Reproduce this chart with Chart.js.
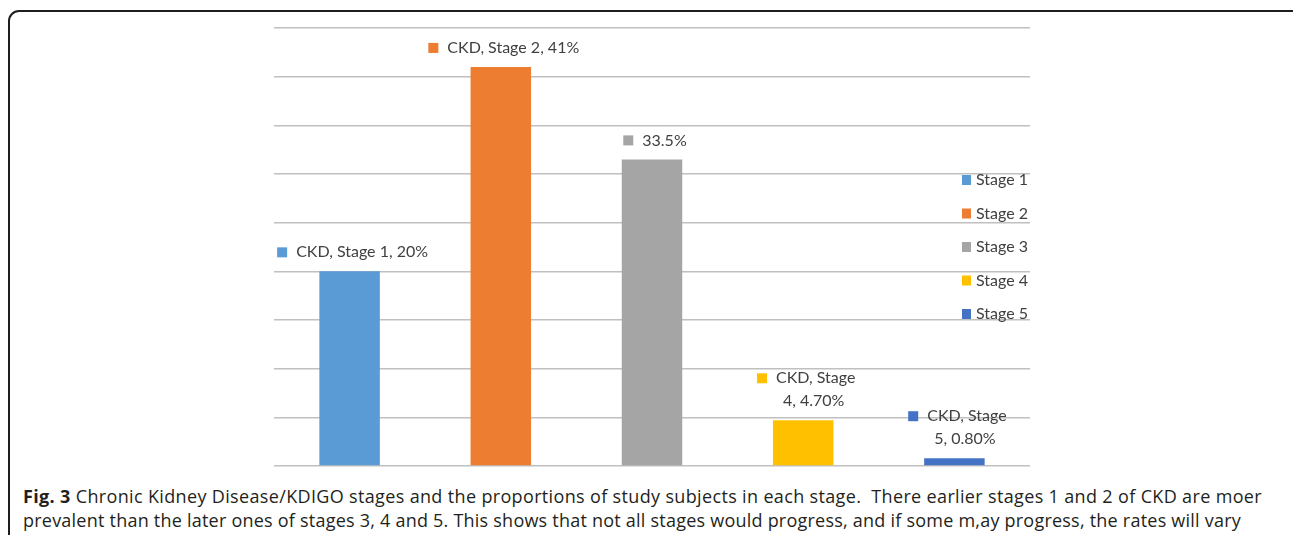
<!DOCTYPE html>
<html>
<head>
<meta charset="utf-8">
<script src="https://cdn.jsdelivr.net/npm/chart.js@4.4.1/dist/chart.umd.min.js"></script>
<style>
  html, body { margin: 0; padding: 0; background: #fff; }
  body { width: 1293px; height: 535px; position: relative; overflow: hidden; }
  #frame {
    position: absolute; left: 8px; top: 10px; width: 1320px; height: 600px;
    border: 2px solid #1e1e1e; border-radius: 11px; box-sizing: border-box;
  }
  #wrap { position: absolute; left: 0; top: 0; width: 1293px; height: 480px; }
  #caption {
    position: absolute; left: 23px; top: 484px; width: 1265px;
    font-family: "Open Sans", sans-serif; font-size: 18px; line-height: 24px;
    color: #231f20; white-space: nowrap;
  }
  #caption span { display: inline-block; }
</style>
</head>
<body>
<div id="frame"></div>
<div id="wrap"><canvas id="chart" width="1293" height="480"></canvas></div>
<div id="caption"><span id="cap1" data-w="1239"><b>Fig. 3</b> Chronic Kidney Disease/KDIGO stages and the proportions of study subjects in each stage.&nbsp; There earlier stages 1 and 2 of CKD are moer</span><br><span id="cap2" data-w="1218">prevalent than the later ones of stages 3, 4 and 5. This shows that not all stages would progress, and if some m,ay progress, the rates will vary</span></div>
<script>
(function() {

  "use strict";

  // data
  var stages = ["Stage 1", "Stage 2", "Stage 3", "Stage 4", "Stage 5"];
  var percents = [20, 41, 31.5, 4.7, 0.8];
  var labelLines = [
    ["CKD, Stage 1, 20%"],
    ["CKD, Stage 2, 41%"],
    ["33.5%"],
    ["CKD, Stage", "4, 4.70%"],
    ["CKD, Stage", "5, 0.80%"]
  ];
  var yTicks = [0, 45, 5]; // min, max, step
  var colors = ["#5b9bd5", "#ed7d31", "#a5a5a5", "#ffc000", "#4472c4"];

  var textColor = "#404040";
  var font = "16px Lato";

  // stretch the caption lines to the widths in the figure
  ["cap1", "cap2"].forEach(function(id) {
    var el = document.getElementById(id);
    var target = +el.getAttribute("data-w");
    var n = el.textContent.length;
    var w = el.getBoundingClientRect().width;
    el.style.letterSpacing = ((target - w) / n) + "px";
  });

  var labelsPlugin = {
    id: "barLabels",
    afterDraw: function(chart) {
      var ctx = chart.ctx;
      var meta = chart.getDatasetMeta(0);
      ctx.save();
      ctx.font = font;
      ctx.textBaseline = "middle";
      meta.data.forEach(function(bar, i) {
        var lines = labelLines[i];
        var w1 = ctx.measureText(lines[0]).width;
        var box = 10, gap = 9;
        var left = bar.x + 3 - (box + gap + w1) / 2;
        var y1 = bar.y - 19 - (lines.length - 1) * 23;
        ctx.fillStyle = colors[i];
        ctx.fillRect(left, y1 - 5, box, box);
        ctx.fillStyle = textColor;
        ctx.textAlign = "left";
        ctx.fillText(lines[0], left + box + gap, y1);
        ctx.textAlign = "center";
        for (var k = 1; k < lines.length; k++) {
          ctx.fillText(lines[k], left + box + gap + w1 / 2 - 2, y1 + 23 * k);
        }
      });

      // legend, stacked on the right over the plot
      ctx.textAlign = "left";
      stages.forEach(function(name, i) {
        var y = 180 + i * 33.5;
        ctx.fillStyle = colors[i];
        ctx.fillRect(962, y - 5, 9, 10);
        ctx.fillStyle = textColor;
        ctx.fillText(name, 976, y);
      });
      ctx.restore();
    }
  };

  var chart = new Chart(document.getElementById("chart"), {
    type: "bar",
    data: {
      labels: stages,
      datasets: [{
        label: "Proportion",
        data: percents,
        backgroundColor: colors,
        borderWidth: 0,
        categoryPercentage: 1,
        barPercentage: 0.4
      }]
    },
    options: {
      responsive: false,
      devicePixelRatio: 1,
      animation: false,
      layout: { padding: { left: 274, right: 263, top: 28, bottom: 14 } },
      plugins: {
        legend: { display: false },
        tooltip: { enabled: false }
      },
      scales: {
        x: { display: false },
        y: {
          min: yTicks[0],
          max: yTicks[1],
          ticks: { display: false, stepSize: yTicks[2] },
          border: { display: false },
          grid: { color: "#c0c0c0", lineWidth: 1.5, drawTicks: false }
        }
      }
    },
    plugins: [labelsPlugin]
  });

})();
</script>
</body>
</html>
